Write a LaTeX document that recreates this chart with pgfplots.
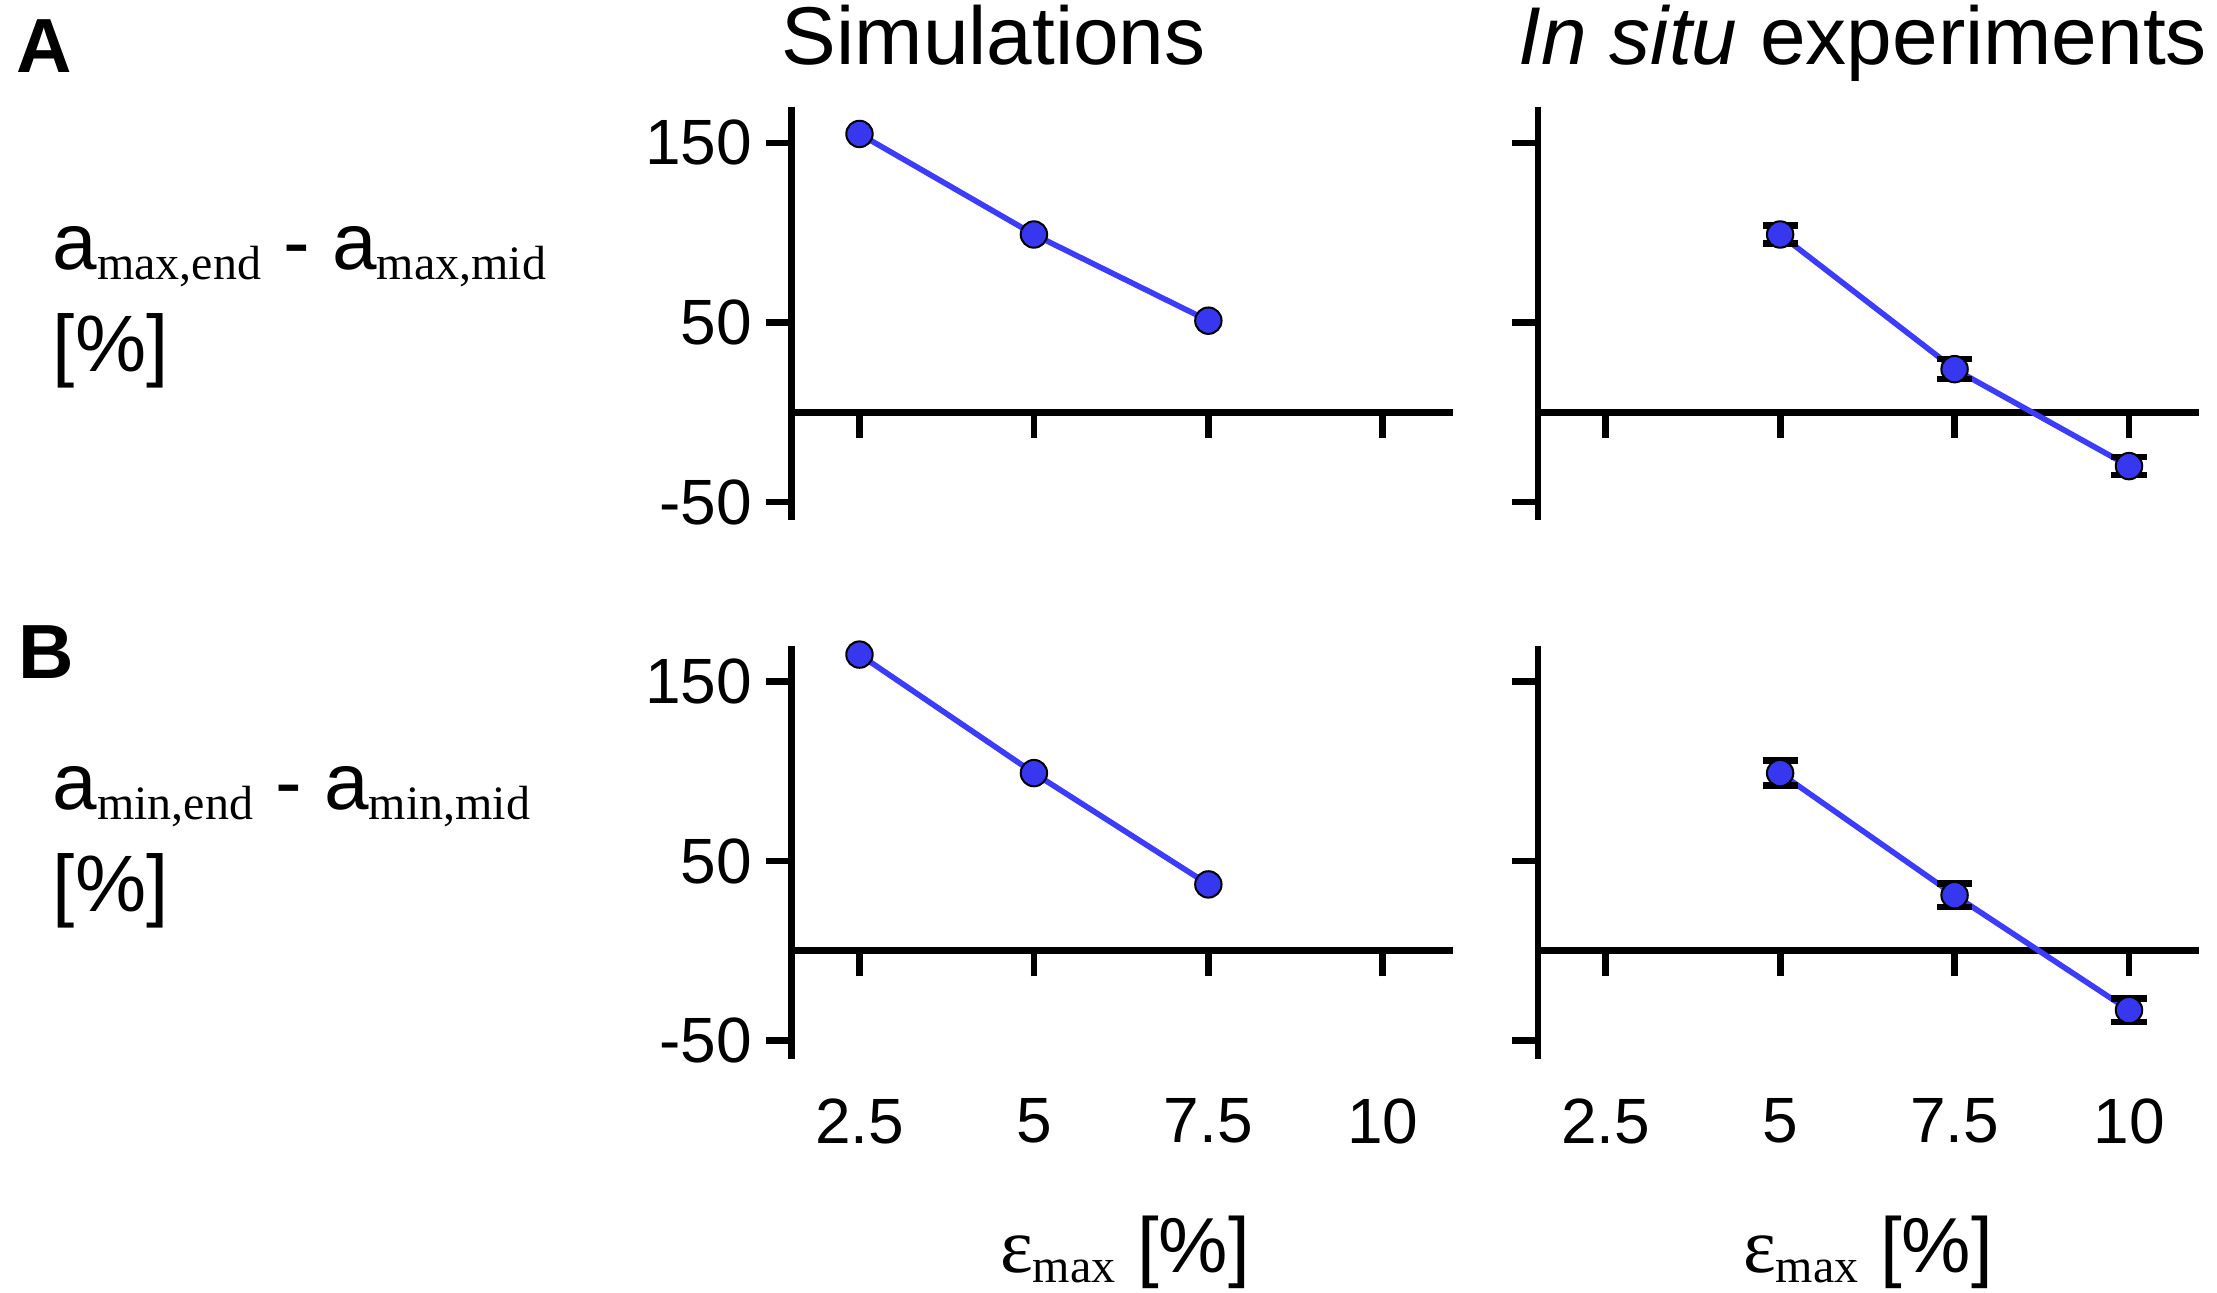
\documentclass[border=0pt]{standalone}
\usepackage{fontspec}
\setmainfont{Liberation Sans}
\newfontfamily\timesf{Liberation Serif}
\usepackage{pgfplots}
\pgfplotsset{compat=1.18}
\definecolor{myblue}{RGB}{55,55,240}
\definecolor{lineblue}{RGB}{60,60,250}
\pgfplotsset{
  myax/.style={
    scale only axis, width=165.2pt, height=103.25pt,
    xmin=1.53, xmax=11, ymin=-60, ymax=170,
    axis x line*=middle, axis y line*=left,
    axis line style={line width=1.7pt, black},
    xtick={2.5,5,7.5,10}, ytick={-50,50,150},
    tick align=outside,
    major tick length=6.4pt,
    tick style={line width=1.7pt, black},
    every tick label/.append style={font=\fontsize{16pt}{19pt}\selectfont},
    xticklabel shift=27pt,
    clip=false,
    /pgf/number format/assume math mode=true,
  },
  sim/.style={lineblue, line width=1.4pt, mark=*, mark size=3.3pt,
    mark options={fill=myblue, draw=black, line width=0.5pt, solid}},
  exp/.style={lineblue, line width=1.4pt, mark=*, mark size=3.3pt,
    mark options={fill=myblue, draw=black, line width=0.5pt, solid},
    error bars/.cd, y dir=both, y explicit,
    error bar style={line width=1.4pt, black},
    error mark options={rotate=90, black, line width=1.6pt, mark size=4.4pt}},
}
\newcommand{\sub}[1]{\raisebox{-2.5pt}{\timesf\fontsize{12pt}{12pt}\selectfont #1}}
\begin{document}
\begin{tikzpicture}
\begin{scope}[x=0.25pt,y=-0.25pt]
\path (0,0) rectangle (2217,1293);
\node[anchor=base west, inner sep=0] at (16,73) {\fontsize{19.2pt}{22pt}\selectfont\bfseries A};
\node[anchor=base west, inner sep=0] at (18,678) {\fontsize{19.2pt}{22pt}\selectfont\bfseries B};
\node[anchor=base west, inner sep=0] at (52,270) {\fontsize{20pt}{22pt}\selectfont a\sub{max,end} - a\sub{max,mid}};
\node[anchor=base west, inner sep=0] at (52,372) {\fontsize{20pt}{22pt}\selectfont [\%]};
\node[anchor=base west, inner sep=0] at (52,809) {\fontsize{20pt}{22pt}\selectfont a\sub{min,end} - a\sub{min,mid}};
\node[anchor=base west, inner sep=0] at (52,911) {\fontsize{20pt}{22pt}\selectfont [\%]};
\node[anchor=base west, inner sep=0] at (781,65) {\fontsize{20.5pt}{24pt}\selectfont Simulations};
\node[anchor=base west, inner sep=0] at (1518,65) {\fontsize{20.5pt}{24pt}\selectfont \textit{In situ} experiments};
\node[anchor=base, inner sep=0] at (1125,1272) {\fontsize{19.5pt}{22pt}\selectfont {\timesf ε}\sub{max} [\%]};
\node[anchor=base, inner sep=0] at (1868,1272) {\fontsize{19.5pt}{22pt}\selectfont {\timesf ε}\sub{max} [\%]};
\end{scope}

\begin{axis}[myax, at={(197.95pt,-130pt)}, anchor=south west, xticklabels={}, yticklabels={-50,50,150}]
\addplot[sim] coordinates {(2.5,155) (5,99) (7.5,51)};
\end{axis}
\begin{axis}[myax, at={(384.5pt,-130pt)}, anchor=south west, xticklabels={}, yticklabels={}]
\addplot[exp] coordinates {(5,99) +- (0,5) (7.5,24) +- (0,5.5) (10,-30) +- (0,5)};
\end{axis}
\begin{axis}[myax, at={(197.95pt,-264.65pt)}, anchor=south west, xticklabels={2.5,5,7.5,10}, yticklabels={-50,50,150}]
\addplot[sim] coordinates {(2.5,165) (5,99) (7.5,37)};
\end{axis}
\begin{axis}[myax, at={(384.5pt,-264.65pt)}, anchor=south west, xticklabels={2.5,5,7.5,10}, yticklabels={}]
\addplot[exp] coordinates {(5,99) +- (0,7) (7.5,31) +- (0,6.5) (10,-33) +- (0,6.5)};
\end{axis}
\end{tikzpicture}
\end{document}
